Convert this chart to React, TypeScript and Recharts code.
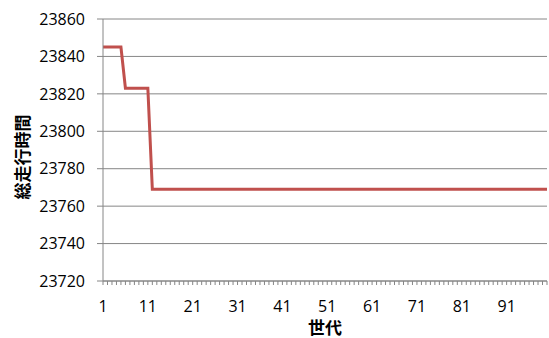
import { LineChart, Line, XAxis, YAxis, CartesianGrid, Label } from "recharts";

// 総走行時間 per generation (世代 1..100)
const totals: number[] = [
  23845, 23845, 23845, 23845, 23845, 23823, 23823, 23823, 23823, 23823,
  23823, 23769, 23769, 23769, 23769, 23769, 23769, 23769, 23769, 23769,
  23769, 23769, 23769, 23769, 23769, 23769, 23769, 23769, 23769, 23769,
  23769, 23769, 23769, 23769, 23769, 23769, 23769, 23769, 23769, 23769,
  23769, 23769, 23769, 23769, 23769, 23769, 23769, 23769, 23769, 23769,
  23769, 23769, 23769, 23769, 23769, 23769, 23769, 23769, 23769, 23769,
  23769, 23769, 23769, 23769, 23769, 23769, 23769, 23769, 23769, 23769,
  23769, 23769, 23769, 23769, 23769, 23769, 23769, 23769, 23769, 23769,
  23769, 23769, 23769, 23769, 23769, 23769, 23769, 23769, 23769, 23769,
  23769, 23769, 23769, 23769, 23769, 23769, 23769, 23769, 23769, 23769,
];
const generations: number[] = totals.map((_, i) => i + 1);
const yTicks = [23720, 23740, 23760, 23780, 23800, 23820, 23840, 23860];
const labelEvery = 10;

const data = generations.map((g, i) => ({ gen: g, total: totals[i] }));

const GRAY = "#868686";
const FONT = "'Open Sans', 'Noto Sans', sans-serif";
const CJK = "'Noto Sans CJK JP', 'Noto Sans CJK SC', sans-serif";

function GenTick(props: any) {
  const { x, y, payload, index } = props;
  return (
    <g>
      <line x1={x} y1={y} x2={x} y2={y + 4} stroke={GRAY} strokeWidth={1} />
      {index % labelEvery === 0 && (
        <text x={x} y={y + 31} textAnchor="middle" fontSize={16} fontFamily={FONT} fill="#000">
          {payload.value}
        </text>
      )}
    </g>
  );
}

function YTitle(props: any) {
  const { viewBox } = props;
  const cx = viewBox.x + 21;
  const cy = viewBox.y + viewBox.height / 2 + 7;
  return (
    <text
      x={cx}
      y={cy}
      transform={`rotate(-90, ${cx}, ${cy})`}
      textAnchor="middle"
      dominantBaseline="central"
      fontSize={17}
      fontWeight="bold"
      fontFamily={CJK}
      fill="#000"
    >
      総走行時間
    </text>
  );
}

export default function App() {
  return (
    <div style={{ position: "absolute", left: 0, top: 0, background: "#fff" }}>
      <LineChart width={549} height={338} data={data} margin={{ top: 19, right: 2, left: 0, bottom: 0 }}>
        <CartesianGrid vertical={false} stroke={GRAY} strokeWidth={1} />
        <XAxis
          dataKey="gen"
          type="category"
          interval={0}
          height={57}
          tickSize={0}
          tickMargin={0}
          tickLine={false}
          tick={<GenTick />}
          axisLine={{ stroke: GRAY }}
        >
          <Label
            value="世代"
            position="insideBottom"
            offset={4}
            style={{ fontSize: 17, fontWeight: "bold", fontFamily: CJK, fill: "#000" }}
          />
        </XAxis>
        <YAxis
          domain={[23720, 23860]}
          ticks={yTicks}
          interval={0}
          width={103}
          tickSize={6}
          tickMargin={12}
          tickLine={{ stroke: GRAY }}
          axisLine={{ stroke: GRAY }}
          tick={{ fontSize: 16, fontFamily: FONT, fill: "#000" }}
        >
          <Label content={<YTitle />} />
        </YAxis>
        <Line
          type="linear"
          dataKey="total"
          stroke="#C0504D"
          strokeWidth={3}
          dot={false}
          isAnimationActive={false}
        />
      </LineChart>
    </div>
  );
}
